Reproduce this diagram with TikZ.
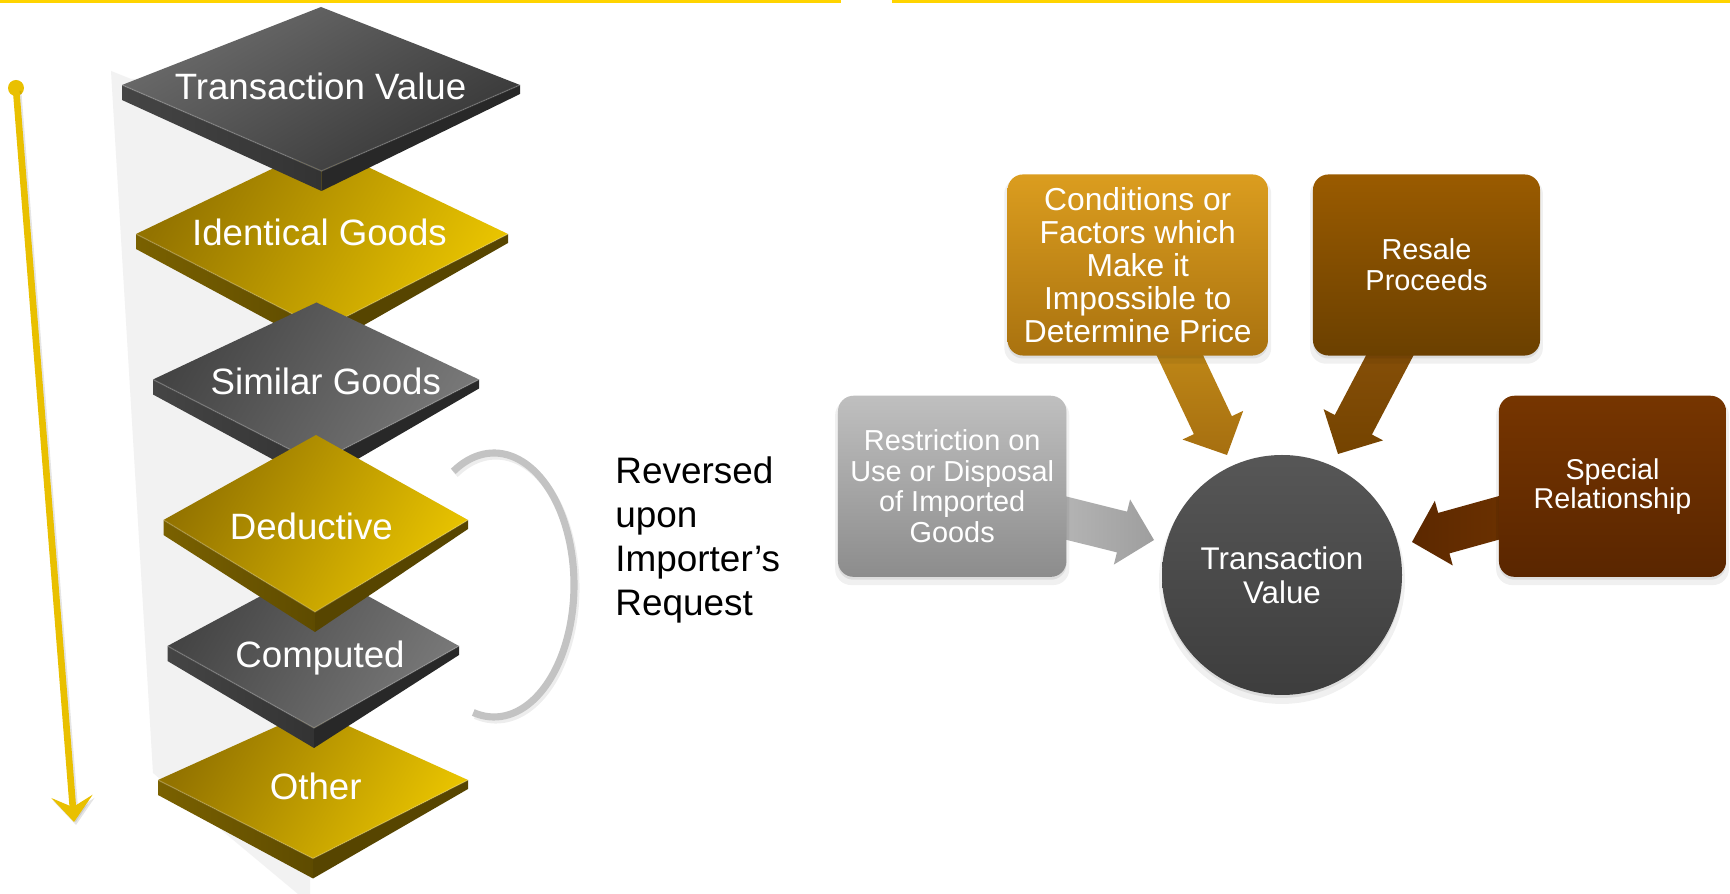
\documentclass[tikz,border=0pt]{standalone}
\usepackage{fontspec}
\setmainfont{Liberation Sans}
\usetikzlibrary{calc,arrows.meta,shadows}
\pgfdeclarelayer{back}
\pgfsetlayers{back,main}

% palette
\definecolor{rule}{HTML}{FFD400}
\definecolor{ygold}{HTML}{E9C000}
\definecolor{panel}{HTML}{F2F2F2}
\definecolor{bracket}{HTML}{C3C3C3}
\definecolor{gdark}{HTML}{937300}
\definecolor{gbright}{HTML}{E8C300}
\definecolor{gsideA}{HTML}{7A6100}
\definecolor{gsideB}{HTML}{5E4B00}
\definecolor{gsideC}{HTML}{574500}
\definecolor{slateL}{HTML}{6C6C6C}
\definecolor{slateD}{HTML}{363636}
\definecolor{slateA}{HTML}{444444}
\definecolor{slateB}{HTML}{787878}
\definecolor{sideA}{HTML}{454545}
\definecolor{sideB}{HTML}{333333}
\definecolor{sideC}{HTML}{282828}

\tikzset{
  slablabel/.style={text=white, font=\fontsize{16.5}{19}\selectfont, anchor=base, inner sep=0pt},
  gtop/.style={top color=gdark, bottom color=gbright, shading angle=60},
  gleft/.style={left color=gsideA, right color=gsideB},
  gright/.style={fill=gsideC},
  dtopfade/.style={top color=slateL, bottom color=slateD, shading angle=30},
  dtop/.style={top color=slateA, bottom color=slateB, shading angle=60},
  dleft/.style={left color=sideA, right color=sideB},
  dright/.style={fill=sideC},
  softshadow/.style={
    general shadow={fill=black, opacity=0.06, shadow yshift=-2.6pt, shadow scale=1.025},
    general shadow={fill=black, opacity=0.08, shadow yshift=-1.3pt}},
  card/.style={rounded corners=7pt, minimum height=81.5pt, align=center,
    text=white, inner sep=0pt, softshadow},
  ordertip/.style={-{Stealth[length=11.5pt, width=18.5pt, inset=4.8pt]}},
}

% one slab of the stack: side faces, top face, edge highlight
\newcommand{\drawslab}[4]{%
  \path[#3] (#1L) -- (#1F) -- ($(#1F)+(0,20)$) -- ($(#1L)+(0,15)$) -- cycle;
  \path[#4] (#1F) -- (#1R) -- ($(#1R)+(0,9)$) -- ($(#1F)+(0,20)$) -- cycle;
  \path[#2] (#1T) -- (#1L) -- (#1F) -- (#1R) -- cycle;
  \draw[white, opacity=0.18, line width=0.6pt] (#1L) -- (#1F) -- (#1R);
}

% broad block arrow from a tail point to a tip point
\newcommand{\blockarr}[3]{%
  \coordinate (#1-hb) at ($(#2)!14.85pt!(#1)$);
  \path[#3] ($(#1)!9.45pt!90:(#2)$) -- ($(#1-hb)!9.45pt!90:(#2)$)
    -- ($(#1-hb)!15.1pt!90:(#2)$) -- (#2)
    -- ($(#1-hb)!15.1pt!-90:(#2)$) -- ($(#1-hb)!9.45pt!-90:(#2)$)
    -- ($(#1)!9.45pt!-90:(#2)$) -- cycle;
}

\begin{document}
\begin{tikzpicture}[x=0.45pt, y=-0.45pt]
\useasboundingbox (0,0) rectangle (1730,894);
\begin{pgfonlayer}{back}
  \fill[white] (0,0) rectangle (1730,894);
\end{pgfonlayer}

% header rules
\fill[rule] (0,0) rectangle (841,2.6);
\fill[rule] (892,0) rectangle (1730,3.2);

% light backdrop behind the stack
\fill[panel] (111,71) -- (131,79) -- (310,79) -- (310,894) -- (298,894) -- (153,773) -- cycle;

% order arrow
\node[circle, fill=ygold, minimum size=7.2pt, inner sep=0pt] (ydot) at (16,88) {};
\coordinate (ytip) at (74,822);
\draw[line width=3pt, black, opacity=0.10, ordertip]
  ($(ydot.center)+(2,3)$) -- ($(ytip)+(2,3)$);
\draw[line width=3pt, ygold, ordertip] (ydot.center) -- (ytip);

% slab corners: top, left, right, front
\coordinate (p1T) at (321,7);     \coordinate (p1L) at (122,85);
\coordinate (p1R) at (520,85);    \coordinate (p1F) at (321.5,171);
\coordinate (p2T) at (322,145);   \coordinate (p2L) at (136,234);
\coordinate (p2R) at (508,234);   \coordinate (p2F) at (322,329);
\coordinate (p3T) at (316.5,302.5); \coordinate (p3L) at (153,379.5);
\coordinate (p3R) at (479,379.5); \coordinate (p3F) at (316.5,463);
\coordinate (p4T) at (316,435);   \coordinate (p4L) at (163.5,520);
\coordinate (p4R) at (468,520);   \coordinate (p4F) at (315,612);
\coordinate (p5T) at (315,567);   \coordinate (p5L) at (167.5,646);
\coordinate (p5R) at (459,646);   \coordinate (p5F) at (314,728);
\coordinate (p6T) at (313,710);   \coordinate (p6L) at (158,780);
\coordinate (p6R) at (468,780);   \coordinate (p6F) at (313,858.5);

\drawslab{p6}{gtop}{gleft}{gright}
\node[slablabel] (other) at (315.7,800) {Other};
\drawslab{p5}{dtop}{dleft}{dright}
\node[slablabel] (computed) at (320,667.7) {Computed};
\drawslab{p2}{gtop}{gleft}{gright}
\node[slablabel] (identical) at (319.5,246) {Identical Goods};
\drawslab{p3}{dtop}{dleft}{dright}
\node[slablabel] (similar) at (325.8,395) {Similar Goods};
\drawslab{p1}{dtopfade}{dleft}{dright}
\node[slablabel] (tvalue) at (320.5,99.3) {Transaction Value};
\drawslab{p4}{gtop}{gleft}{gright}
\node[slablabel] (deductive) at (311.3,540) {Deductive};

% bracket linking the two reversible methods
\draw[line width=3.2pt, black, opacity=0.07]
  plot[domain=-120.6:105, samples=80, smooth] ({496+80*cos(\x)},{588+132*sin(\x)});
\draw[line width=3.2pt, bracket]
  plot[domain=-120.6:105, samples=80, smooth] ({494+80*cos(\x)},{585+132*sin(\x)});
\node[anchor=west, align=left, inner sep=0pt, font=\fontsize{16.6}{19.8}\selectfont]
  (reversed) at (615,539.5) {Reversed\\upon\\Importer’s\\Request};

% factors feeding transaction value
\node[circle, minimum size=108pt, inner sep=0pt, top color=black!66, bottom color=black!76,
  text=white, align=center, font=\fontsize{14.1}{15.3}\selectfont, softshadow]
  (tv) at (1282,575) {Transaction\\Value};
\node[card, minimum width=102.8pt, top color=black!25, bottom color=black!45,
  font=\fontsize{13}{13.8}\selectfont]
  (restr) at (952.2,486.3) {Restriction on\\Use or Disposal\\of Imported\\Goods};
\node[card, minimum width=117.2pt, top color={rgb,255:red,219;green,157;blue,31},
  bottom color={rgb,255:red,169;green,114;blue,15}, font=\fontsize{14.3}{14.85}\selectfont]
  (cond) at (1137.75,265) {Conditions or\\Factors which\\Make it\\Impossible to\\Determine Price};
\node[card, minimum width=102.2pt, top color={rgb,255:red,154;green,91;blue,0},
  bottom color={rgb,255:red,107;green,64;blue,0}, font=\fontsize{13}{14}\selectfont]
  (resale) at (1426.5,265) {Resale\\Proceeds};
\node[card, minimum width=102.2pt, top color={rgb,255:red,118;green,53;blue,0},
  bottom color={rgb,255:red,90;green,38;blue,0}, font=\fontsize{12.9}{12.9}\selectfont]
  (special) at (1612.5,486.3) {Special\\Relationship};

\coordinate (a1s) at ($(cond.south)+(32,-22)$);
\coordinate (a1t) at ($(tv.center)+(-55,-120)$);
\coordinate (a2s) at ($(resale.south)+(-26,-21)$);
\coordinate (a2t) at ($(tv.center)+(56,-121)$);
\coordinate (a3s) at ($(restr.east)+(-24,26)$);
\coordinate (a3t) at ($(tv.center)+(-128,-35)$);
\coordinate (a4s) at ($(special.west)+(24,25)$);
\coordinate (a4t) at ($(tv.center)+(130,-33)$);

\begin{pgfonlayer}{back}
  \blockarr{a1s}{a1t}{top color={rgb,255:red,196;green,140;blue,24}, bottom color={rgb,255:red,166;green,111;blue,16}}
  \blockarr{a2s}{a2t}{top color={rgb,255:red,138;green,82;blue,10}, bottom color={rgb,255:red,116;green,67;blue,0}}
  \blockarr{a3s}{a3t}{left color=black!27, right color=black!38}
  \blockarr{a4s}{a4t}{left color={rgb,255:red,92;green,40;blue,0}, right color={rgb,255:red,110;green,51;blue,0}}
\end{pgfonlayer}
\end{tikzpicture}
\end{document}
